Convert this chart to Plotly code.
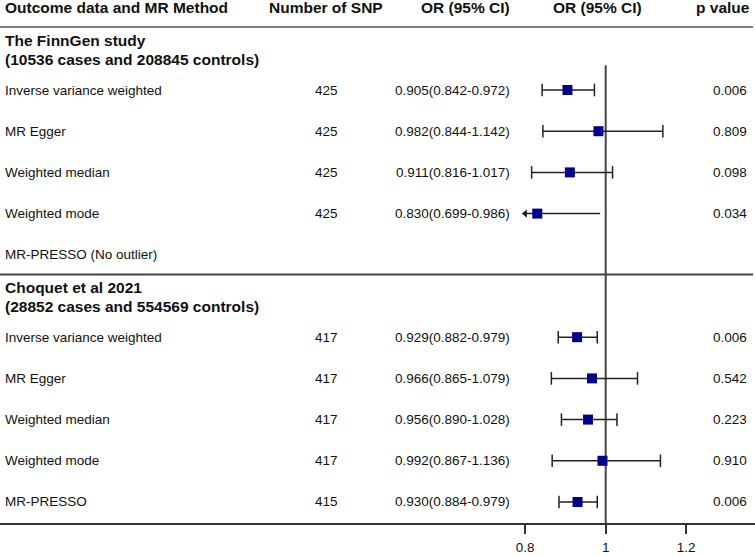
import plotly.graph_objects as go

# ---------------- data ----------------
header_cols = ["Outcome data and MR Method", "Number of SNP", "OR (95% CI)", "OR (95% CI)", "p value"]

group_titles = [["The FinnGen study", "(10536 cases and 208845 controls)"],
                ["Choquet et al 2021", "(28852 cases and 554569 controls)"]]

methods1 = ["Inverse variance weighted", "MR Egger", "Weighted median", "Weighted mode", "MR-PRESSO (No outlier)"]
nsnp1 = [425, 425, 425, 425, None]
or1 = [0.905, 0.982, 0.911, 0.830, None]
lo1 = [0.842, 0.844, 0.816, 0.699, None]
hi1 = [0.972, 1.142, 1.017, 0.986, None]
p1 = ["0.006", "0.809", "0.098", "0.034", ""]

methods2 = ["Inverse variance weighted", "MR Egger", "Weighted median", "Weighted mode", "MR-PRESSO"]
nsnp2 = [417, 417, 417, 417, 415]
or2 = [0.929, 0.966, 0.956, 0.992, 0.930]
lo2 = [0.882, 0.865, 0.890, 0.867, 0.884]
hi2 = [0.979, 1.079, 1.028, 1.136, 0.979]
p2 = ["0.006", "0.542", "0.223", "0.910", "0.006"]

tick_vals = [0.8, 1, 1.2]
tick_text = ["0.8", "1", "1.2"]
xlim = [0.8, 1.2]
ref_value = 1

# ---------------- layout helpers ----------------
W, H = 755, 556
FONT = "Liberation Sans, Arial, sans-serif"
TXT = 13.5
BOLD = 15.5

def px(xp):
    return xp / W

groups = [
    dict(title=group_titles[0], methods=methods1, n=nsnp1, est=or1, lo=lo1, hi=hi1, p=p1, start=0),
    dict(title=group_titles[1], methods=methods2, n=nsnp2, est=or2, lo=lo2, hi=hi2, p=p2, start=6),
]

fig = go.Figure()
ann = []

# header row (slot -2)
hdr_pos = [(3, "left"), (326, "center"), (512, "right"), (597.5, "center"), (752, "right")]
for txt, (xp, anc) in zip(header_cols, hdr_pos):
    ann.append(dict(x=px(xp), y=-2, xref="paper", yref="y", text="<b>%s</b>" % txt,
                    xanchor=anc, yanchor="middle", showarrow=False,
                    font=dict(family=FONT, size=BOLD, color="#111")))

ci_x, ci_y = [], []
cap_x, cap_y = [], []
arrow_x, arrow_y = [], []
pt_x, pt_y = [], []

for g in groups:
    s = g["start"]
    ann.append(dict(x=px(3), y=s - 1, xref="paper", yref="y", text="<b>%s</b>" % g["title"][0],
                    xanchor="left", yanchor="middle", yshift=8.5, showarrow=False,
                    font=dict(family=FONT, size=BOLD, color="#111")))
    ann.append(dict(x=px(3), y=s - 1, xref="paper", yref="y", text="<b>%s</b>" % g["title"][1],
                    xanchor="left", yanchor="middle", yshift=-10.5, showarrow=False,
                    font=dict(family=FONT, size=BOLD, color="#111")))
    for i, m in enumerate(g["methods"]):
        y = s + i
        ann.append(dict(x=px(3), y=y, xref="paper", yref="y", text=m, xanchor="left",
                        yanchor="middle", showarrow=False, font=dict(family=FONT, size=TXT, color="#111")))
        if g["n"][i] is not None:
            ann.append(dict(x=px(326), y=y, xref="paper", yref="y", text=str(g["n"][i]),
                            xanchor="center", yanchor="middle", showarrow=False,
                            font=dict(family=FONT, size=TXT, color="#111")))
        e, lo, hi = g["est"][i], g["lo"][i], g["hi"][i]
        if e is not None:
            ann.append(dict(x=px(512), y=y, xref="paper", yref="y",
                            text="%.3f(%.3f-%.3f)" % (e, lo, hi),
                            xanchor="right", yanchor="middle", showarrow=False,
                            font=dict(family=FONT, size=TXT, color="#111")))
            clipped = lo < xlim[0] or hi > xlim[1]
            l = max(lo, xlim[0])
            h = min(hi, xlim[1])
            ci_x += [l, h, None]
            ci_y += [y, y, None]
            if clipped:
                if lo < xlim[0]:
                    arrow_x.append(xlim[0]); arrow_y.append(y)
                if hi > xlim[1]:
                    arrow_x.append(xlim[1]); arrow_y.append(y)
            else:
                cap_x += [l, h]
                cap_y += [y, y]
            pt_x.append(e); pt_y.append(y)
        if g["p"][i]:
            ann.append(dict(x=px(749), y=y, xref="paper", yref="y", text=g["p"][i],
                            xanchor="right", yanchor="middle", showarrow=False,
                            font=dict(family=FONT, size=TXT, color="#111")))

fig.add_trace(go.Scatter(x=ci_x, y=ci_y, mode="lines", line=dict(color="#222", width=1.5),
                         hoverinfo="skip", showlegend=False))
fig.add_trace(go.Scatter(x=cap_x, y=cap_y, mode="markers",
                         marker=dict(symbol="line-ns", size=9, line=dict(color="#222", width=1.5)),
                         hoverinfo="skip", showlegend=False))
fig.add_trace(go.Scatter(x=arrow_x, y=arrow_y, mode="markers",
                         marker=dict(symbol="triangle-left", size=7, color="#222"),
                         hoverinfo="skip", showlegend=False))
fig.add_trace(go.Scatter(x=pt_x, y=pt_y, mode="markers",
                         marker=dict(symbol="square", size=10, color="#00008B", line=dict(width=0)),
                         showlegend=False))

# reference line
fig.add_shape(type="line", xref="x", yref="y", x0=ref_value, x1=ref_value, y0=-0.6, y1=10.51,
              line=dict(color="#444", width=2), layer="below")
# horizontal rules
fig.add_shape(type="line", xref="paper", yref="y", x0=0, x1=753 / W, y0=-1.53, y1=-1.53,
              line=dict(color="#555", width=1.5))
fig.add_shape(type="line", xref="paper", yref="y", x0=0, x1=753 / W, y0=4.48, y1=4.48,
              line=dict(color="#444", width=2))

# pixel-based axis geometry: px = 605.7 + (v-1)*402.5
scale = 402.5
x0 = 1 - 605.7 / scale
x1 = 1 + (W - 605.7) / scale

fig.update_layout(
    width=W, height=H,
    margin=dict(l=0, r=0, t=0, b=0),
    paper_bgcolor="white", plot_bgcolor="white",
    annotations=ann,
    xaxis=dict(range=[x0, x1], domain=[0, 1], showgrid=False, zeroline=False,
               tickvals=tick_vals, ticktext=tick_text, ticks="outside", ticklen=9,
               ticklabelstandoff=2,
               tickwidth=1.5, tickcolor="#333", showline=True, linecolor="#333", linewidth=2,
               tickfont=dict(family=FONT, size=TXT, color="#111"), fixedrange=True),
    yaxis=dict(range=[10.51, -2.1845], domain=[(H - 523) / H, 1], visible=False,
               showgrid=False, zeroline=False, fixedrange=True),
)

fig.write_html("out.html", config={"displayModeBar": False},
               post_script="document.body.style.margin='0';document.body.style.overflow='hidden';")
